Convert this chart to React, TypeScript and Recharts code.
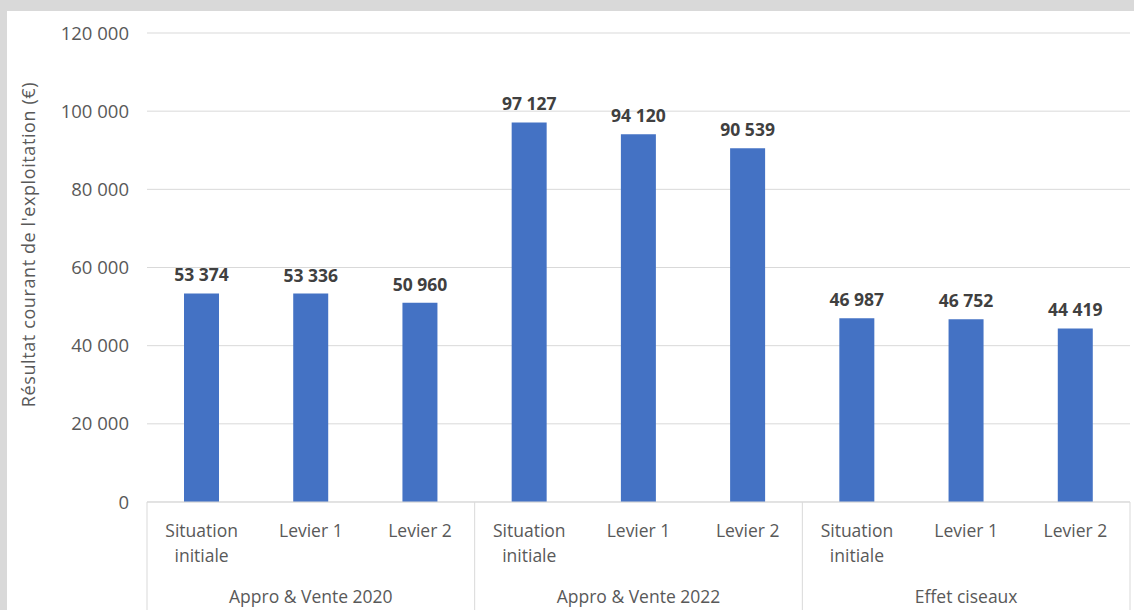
import React from "react"
import { BarChart, Bar, XAxis, YAxis, CartesianGrid, LabelList } from "recharts"

const groups = ["Appro & Vente 2020", "Appro & Vente 2022", "Effet ciseaux"]
const scenarios = ["Situation initiale", "Levier 1", "Levier 2"]
const values = [53374, 53336, 50960, 97127, 94120, 90539, 46987, 46752, 44419]
const yTicks = [0, 20000, 40000, 60000, 80000, 100000, 120000]

const data = values.map((v, i) => ({
  key: `${i}`,
  group: groups[Math.floor(i / 3)],
  scenario: scenarios[i % 3],
  value: v,
}))

const W = 1127
const H = 599
const LEFT = 140
const RIGHT = 4
const AXIS_H = 108
const BAND = (W - LEFT - RIGHT) / data.length
const FONT = "'Open Sans', sans-serif"
const GREY_TEXT = "#595959"
const LINE = "#d9d9d9"

const fmt = (n: number) => n.toString().replace(/\B(?=(\d{3})+(?!\d))/g, " ")

function CategoryTick(props: any) {
  const { x, y, index } = props
  const row = data[index]
  const words = row.scenario === "Situation initiale" ? ["Situation", "initiale"] : [row.scenario]
  const sepBottom = y + AXIS_H
  return (
    <g>
      {words.map((w, k) => (
        <text key={w} x={x} y={y + 28 + k * 25} textAnchor="middle" dominantBaseline="central"
          fontFamily={FONT} fontSize={17.5} fill={GREY_TEXT}>
          {w}
        </text>
      ))}
      {index % 3 === 1 && (
        <text x={x} y={y + 94} textAnchor="middle" dominantBaseline="central"
          fontFamily={FONT} fontSize={17.5} fill={GREY_TEXT}>
          {row.group}
        </text>
      )}
      {index % 3 === 0 && <line x1={x - BAND / 2} x2={x - BAND / 2} y1={y} y2={sepBottom} stroke={LINE} />}
      {index === data.length - 1 && <line x1={x + BAND / 2} x2={x + BAND / 2} y1={y} y2={sepBottom} stroke={LINE} />}
    </g>
  )
}

function YTitle(props: any) {
  const { viewBox } = props
  const cx = viewBox.x + 21
  const cy = viewBox.y + viewBox.height / 2 - 23
  return (
    <text x={cx} y={cy} transform={`rotate(-90 ${cx} ${cy})`} textAnchor="middle" dominantBaseline="central"
      fontFamily={FONT} fontSize={18} letterSpacing={0.6} fill={GREY_TEXT}>
      Résultat courant de l'exploitation (€)
    </text>
  )
}

function ValueLabel(props: any) {
  const { x, y, width, value } = props
  return (
    <text x={x + width / 2} y={y - 19} textAnchor="middle" dominantBaseline="central"
      fontFamily={FONT} fontSize={17.5} fontWeight={700} fill="#404040">
      {fmt(Number(value))}
    </text>
  )
}

export default function App() {
  return (
    <div style={{ position: "absolute", left: 0, top: 0, width: 1134, height: 610, background: "#d9d9d9", overflow: "hidden" }}>
      <div style={{ position: "absolute", left: 7, top: 11, width: W, height: H, background: "#fff" }}>
        <BarChart width={W} height={H} data={data} margin={{ top: 22, right: RIGHT, left: 0, bottom: 0 }}>
          <CartesianGrid vertical={false} stroke={LINE} />
          <XAxis
            dataKey="key"
            height={AXIS_H}
            interval={0}
            tickLine={false}
            tickSize={0}
            tickMargin={0}
            axisLine={{ stroke: LINE }}
            tick={<CategoryTick />}
          />
          <YAxis
            width={LEFT}
            domain={[0, 120000]}
            ticks={yTicks}
            axisLine={false}
            tickLine={false}
            tickFormatter={fmt}
            tickMargin={12}
            tick={{ fontFamily: FONT, fontSize: 18.5, fill: GREY_TEXT }}
            label={<YTitle />}
          />
          <Bar dataKey="value" fill="#4472c4" barSize={35} isAnimationActive={false}>
            <LabelList dataKey="value" content={<ValueLabel />} />
          </Bar>
        </BarChart>
      </div>
    </div>
  )
}
